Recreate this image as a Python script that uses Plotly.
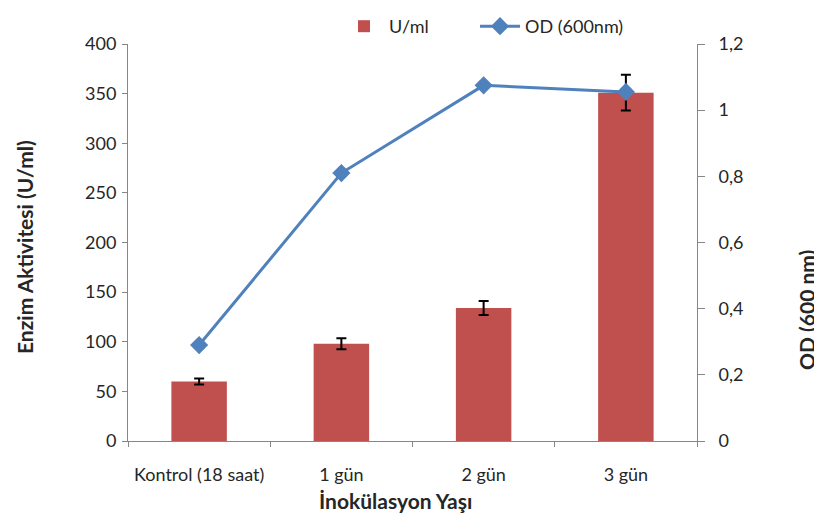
import plotly.graph_objects as go

categories = ["Kontrol (18 saat)", "1 gün", "2 gün", "3 gün"]
enzyme_activity = [60, 98, 134, 351]
enzyme_error = [3, 5.5, 7, 18]
od_600 = [0.29, 0.81, 1.075, 1.055]

left_ticks = [0, 50, 100, 150, 200, 250, 300, 350, 400]
right_ticks = [0, 0.2, 0.4, 0.6, 0.8, 1.0, 1.2]
right_tick_labels = ["0", "0,2", "0,4", "0,6", "0,8", "1", "1,2"]

font_family = "Lato, Open Sans, sans-serif"
axis_color = "#868686"
text_color = "#262626"

# page offset (body margin) of the rendered html
OFF = 8
W, H = 822, 527
# target screen positions of the plot area
SX0, SX1, SY0, SY1 = 128, 697, 44, 441
L = SX0 - OFF
R = W - (SX1 - OFF)
T = 0
B = H - (SY1 - OFF)
plot_w = W - L - R
plot_h = H - T - B
dom_top = (SY1 - SY0) / plot_h


def px(sx):
    return (sx - SX0) / plot_w


def py(sy):
    return (SY1 - sy) / plot_h


fig = go.Figure()
fig.add_trace(go.Bar(
    x=categories, y=enzyme_activity, name="U/ml", legend="legend",
    marker=dict(color="#C0504D", line=dict(width=0)),
    width=0.39,
    error_y=dict(type="data", array=enzyme_error, visible=True,
                 color="black", thickness=2, width=5),
))
fig.add_trace(go.Scatter(
    x=categories, y=od_600, name="OD (600nm)", yaxis="y2", legend="legend2",
    mode="lines+markers",
    line=dict(color="#4F81BD", width=3),
    marker=dict(symbol="diamond", size=14, color="#4F81BD"),
))

legend_common = dict(orientation="h", yanchor="top", y=1.0,
                     font=dict(size=18), itemwidth=40, borderwidth=0,
                     bgcolor="rgba(0,0,0,0)")

fig.update_layout(
    width=W, height=H,
    margin=dict(l=L, r=R, t=T, b=B),
    paper_bgcolor="white", plot_bgcolor="white",
    font=dict(family=font_family, size=18, color=text_color),
    showlegend=True,
    legend=dict(x=px(339), xanchor="left", **legend_common),
    legend2=dict(x=px(475), xanchor="left", **legend_common),
    bargap=0.6,
    xaxis=dict(
        showline=True, linecolor=axis_color, linewidth=1,
        ticks="outside", tickson="boundaries", ticklen=5, tickcolor=axis_color,
        showgrid=False, ticklabelstandoff=17, automargin=False,
    ),
    yaxis=dict(
        range=[0, 400], tickvals=left_ticks, domain=[0, dom_top],
        showline=True, linecolor=axis_color, linewidth=1,
        ticks="outside", ticklen=5, tickcolor=axis_color,
        showgrid=False, zeroline=False, ticklabelstandoff=2, automargin=False,
    ),
    yaxis2=dict(
        range=[0, 1.2], tickvals=right_ticks, ticktext=right_tick_labels,
        overlaying="y", side="right",
        showline=True, linecolor=axis_color, linewidth=1,
        ticks="outside", ticklen=7, tickcolor=axis_color,
        showgrid=False, zeroline=False, ticklabelstandoff=10, automargin=False,
    ),
)

title_font = dict(size=21)
fig.add_annotation(text="<b>Enzim Aktivitesi (U/ml)</b>", textangle=-90,
                   xref="paper", yref="paper", x=px(24), y=py(247),
                   xanchor="center", yanchor="middle", showarrow=False, font=title_font)
fig.add_annotation(text="<b>OD (600 nm)</b>", textangle=-90,
                   xref="paper", yref="paper", x=px(806), y=py(310),
                   xanchor="center", yanchor="middle", showarrow=False, font=title_font)
fig.add_annotation(text="<b>İnokülasyon Yaşı</b>",
                   xref="paper", yref="paper", x=px(395), y=py(500),
                   xanchor="center", yanchor="middle", showarrow=False, font=title_font)

fig.write_html("out.html")
